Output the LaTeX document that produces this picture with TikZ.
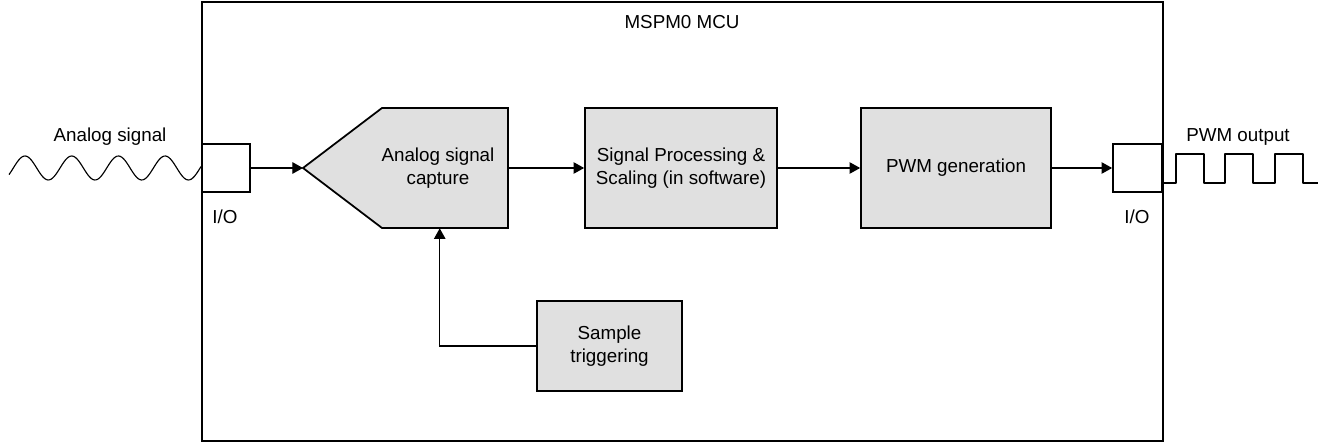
\documentclass[tikz,border=0pt]{standalone}
\usepackage{fontspec}
\setmainfont{Liberation Sans}
\usetikzlibrary{arrows.meta}
\definecolor{blockgray}{RGB}{224,224,224}
\tikzset{
	block/.style={draw, line width=1pt, fill=blockgray, align=center, inner sep=0pt},
	port/.style={draw, line width=1pt, fill=white, inner sep=0pt},
	sig/.style={-{Triangle[length=6pt,width=6.5pt]}, line width=0.6pt},
	wave/.style={line width=0.65pt, line join=round},
}

\begin{document}
\begin{tikzpicture}[x=0.02cm, y=-0.02cm, font=\fontsize{10.7}{13}\selectfont]
		%%%%% START %%%%%
		\useasboundingbox (0, 0) rectangle (1318, 445);
		
		\node[draw, line width=1.25pt, minimum width=19.22cm, minimum height=8.78cm] (mcu) at (682.5, 221.5) {};
		\node (mcutitle) at (682, 22) {MSPM0 MCU};
		
		\node[port, minimum width=0.96cm, minimum height=0.96cm] (inport) at (226, 168) {};
		\node (inlabel) at (225, 217) {I/O};
		\node[port, minimum width=0.98cm, minimum height=0.96cm] (outport) at (1137.5, 168) {};
		\node (outlabel) at (1137, 217) {I/O};
		
		% analog input
		\node (insig) at (110, 137) {Analog signal};
		\draw[wave] plot[domain=9:201, samples=120, smooth] (\x, {168 - 12*cos((\x-25)/46.7*360)});
		
		% capture block
		\coordinate (adctip) at (303, 168);
		\draw[block] (adctip) -- (382, 108) -- (508, 108) -- (508, 228) -- (382, 228) -- cycle;
		\node[minimum width=2.52cm, minimum height=2.4cm, inner sep=0pt, align=center] (adc) at (445, 168) {\hspace*{-8pt}Analog signal\\\hspace*{-8pt}capture};
		
		\node[block, minimum width=3.84cm, minimum height=2.4cm] (proc) at (681, 168) {Signal Processing \&\\Scaling (in software)};
		\node[block, minimum width=3.8cm, minimum height=2.4cm] (pwm) at (956, 168) {PWM generation};
		\node[block, minimum width=2.9cm, minimum height=1.8cm] (trig) at (609.5, 346) {Sample\\triggering};
		
		\draw[sig] (inport.east) -- (adctip);
		\draw[sig] (adc.east) -- (proc.west);
		\draw[sig] (proc.east) -- (pwm.west);
		\draw[sig] (pwm.east) -- (outport.west);
		\draw[sig] (trig.west) -| ([xshift=-3]adc.south);
		
		% pwm output
		\node (outsig) at (1238, 137) {PWM output};
		\draw[wave] (1162, 183)
			\foreach \r/\f in {1176/1204, 1225/1253, 1275/1303} { -- (\r, 183) -- (\r, 154) -- (\f, 154) -- (\f, 183) }
			-- (1318, 183);
		%%%%% END %%%%%
\end{tikzpicture}
\end{document}
